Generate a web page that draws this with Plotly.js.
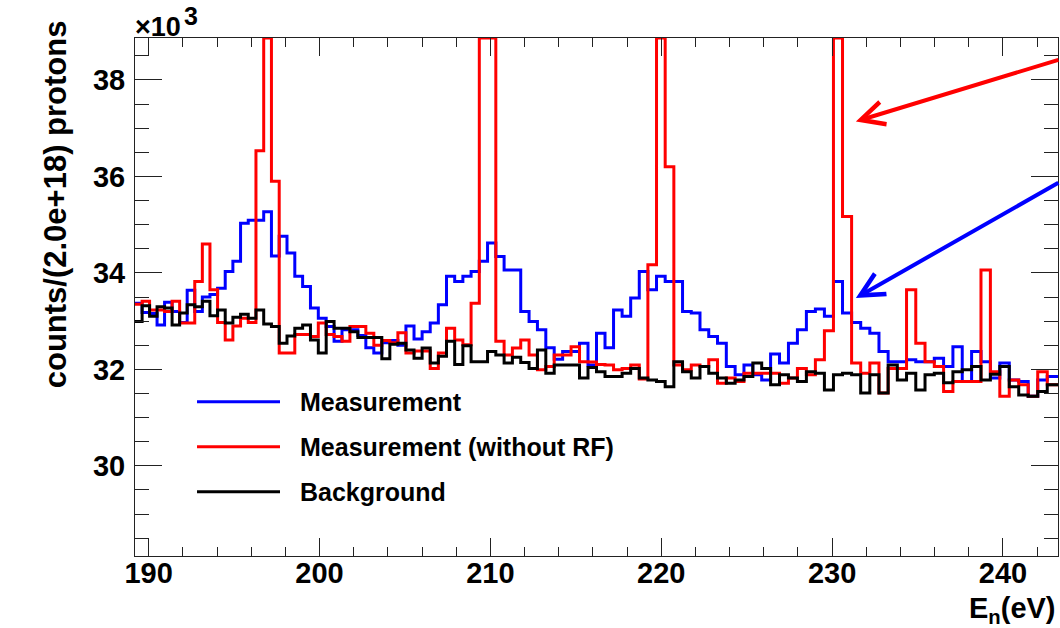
<!DOCTYPE html>
<html><head><meta charset="utf-8">
<script src="https://cdn.plot.ly/plotly-3.0.1.min.js"></script>
<style>html,body{margin:0;padding:0;background:#fff}#chart{width:1060px;height:628px}</style>
</head><body><div id="chart"></div>
<script>
// Histogram binning: logarithmic bins, 1000 bins per decade, first low edge in eV
const firstBinEdge = 189.18;
const binsPerDecade = 1000;

// Bin contents (x10^3 counts / (2.0e+18) protons), read bin by bin from the picture
const measurement = [
 33.37,33.18,33.16,32.92,33.39,33.20,32.97,33.64,33.20,33.50,
 33.55,33.68,34.03,34.24,35.03,35.09,35.09,35.27,34.35,34.76,
 34.41,33.93,33.72,33.27,33.06,32.89,32.58,32.82,32.82,32.70,
 32.45,32.34,32.55,32.60,32.50,32.90,32.63,32.78,32.96,33.34,
 33.93,33.82,33.93,34.03,34.24,34.62,34.34,34.06,34.06,33.20,
 32.99,32.82,32.45,32.21,32.37,32.37,32.54,32.09,32.75,32.45,
 33.23,33.10,33.48,34.03,33.65,33.93,33.82,33.82,33.20,33.17,
 32.82,32.68,32.54,32.06,31.89,32.09,31.89,31.78,32.32,32.13,
 32.54,32.82,33.20,33.25,33.10,33.82,33.17,32.97,32.85,32.75,
 32.37,32.16,32.16,32.20,32.16,32.16,32.23,32.06,32.47,31.75,
 32.37,32.16,31.82,32.13,31.78,31.75,31.44,31.78,31.85,31.85
];
const measurementNoRF = [
 33.35,33.41,33.23,33.23,33.20,33.41,32.96,32.96,33.82,34.60,
 33.65,32.97,32.61,32.90,33.06,32.97,36.53,38.87,35.90,32.34,
 32.34,32.72,32.72,32.68,32.96,32.72,32.68,32.58,32.89,32.89,
 32.75,32.50,32.60,32.55,32.76,32.34,32.38,32.38,32.02,32.34,
 32.85,32.61,32.51,33.37,38.87,38.87,32.58,32.30,32.44,32.61,
 32.30,31.99,32.06,32.30,32.30,32.47,32.16,32.15,32.10,32.09,
 31.99,32.02,32.09,31.80,34.17,38.87,36.20,32.09,31.99,32.09,
 32.06,32.20,31.71,31.82,31.75,31.92,31.92,31.92,31.92,31.71,
 31.82,32.02,31.89,32.20,32.80,38.87,35.17,32.13,31.92,32.13,
 31.51,32.02,32.02,33.65,32.54,32.16,32.06,31.54,31.75,31.75,
 31.75,34.06,31.95,31.44,31.78,31.68,31.44,31.95,31.68,31.68
];
const background = [
 32.99,33.32,33.10,33.30,33.27,32.92,33.17,33.34,33.30,33.41,
 33.11,33.23,32.96,33.08,33.14,33.06,33.23,32.94,32.89,32.54,
 32.69,32.85,32.92,32.61,32.34,32.99,32.85,32.85,32.78,32.66,
 32.66,32.66,32.22,32.52,32.54,32.40,32.23,32.44,32.13,32.27,
 32.58,32.10,32.49,32.16,32.16,32.37,32.30,32.13,32.25,32.14,
 32.02,32.40,31.92,32.09,32.09,32.09,31.82,32.04,31.95,31.85,
 31.85,31.92,32.02,31.82,31.78,31.75,31.64,32.16,31.95,31.82,
 32.06,31.92,31.82,31.71,31.78,31.85,32.13,32.02,31.68,31.89,
 31.82,31.75,31.95,31.92,31.57,31.89,31.92,31.89,31.51,31.89,
 31.51,32.09,31.78,31.92,31.57,31.89,31.92,31.72,31.95,31.99,
 32.06,31.78,31.90,32.06,31.64,31.47,31.44,31.54,31.68,31.68
];

const seriesNames = ['Measurement', 'Measurement (without RF)', 'Background'];
const seriesColors = ['#0000ff', '#ff0000', '#000000'];
const xTickVals = [190, 200, 210, 220, 230, 240];
const xTickText = ['190', '200', '210', '220', '230', '240'];
const yTickVals = [30, 32, 34, 36, 38];
const yTickText = ['30', '32', '34', '36', '38'];

const FONT = 'Liberation Sans, Arial, Helvetica, sans-serif';

// bin edges of the histogram axis
const nBins = measurement.length;
const edges = [];
for (let i = 0; i <= nBins; i++) edges.push(firstBinEdge * Math.pow(10, i / binsPerDecade));

function stepTrace(vals, name, color) {
  return {
    type: 'scatter', mode: 'lines', name: name,
    x: edges, y: vals.concat([vals[vals.length - 1]]),
    line: {shape: 'hv', color: color, width: 3},
    hoverinfo: 'skip'
  };
}
const data = [
  stepTrace(measurement, seriesNames[0], seriesColors[0]),
  stepTrace(measurementNoRF, seriesNames[1], seriesColors[1]),
  stepTrace(background, seriesNames[2], seriesColors[2])
];

const axisCommon = {
  showgrid: false, zeroline: false, showline: true, linecolor: '#222', linewidth: 1,
  mirror: 'allticks', ticks: 'inside', tickcolor: '#222', tickwidth: 1,
  tickfont: {family: FONT, size: 29, color: '#000', weight: 'bold'}
};

const annotations = [
  {xref: 'paper', yref: 'paper', x: -0.002, y: 1, xanchor: 'left', yanchor: 'bottom', yshift: -6,
   text: '×10', showarrow: false, font: {family: FONT, size: 27, color: '#000', weight: 'bold'}},
  {xref: 'paper', yref: 'paper', x: 0.0505, y: 1, xanchor: 'left', yanchor: 'bottom', yshift: 6,
   text: '3', showarrow: false, font: {family: FONT, size: 25, color: '#000', weight: 'bold'}},
  {xref: 'paper', yref: 'paper', x: -0.0867, y: 1.038, xanchor: 'center', yanchor: 'top',
   textangle: -90, text: 'counts/(2.0e+18) protons', showarrow: false,
   font: {family: FONT, size: 31, color: '#000', weight: 'bold'}},
  {xref: 'paper', yref: 'paper', x: 1, y: -0.066, xanchor: 'right', yanchor: 'top',
   text: 'E<sub>n</sub>(eV)', showarrow: false,
   font: {family: FONT, size: 29, color: '#000', weight: 'bold'}},
  {xref: 'x', yref: 'y', x: 231.39, y: 37.14, ax: 204, ay: -62, axref: 'pixel', ayref: 'pixel',
   showarrow: true, arrowhead: 5, arrowsize: 1.15, arrowwidth: 4, arrowcolor: '#ff0000', text: ''},
  {xref: 'x', yref: 'y', x: 231.39, y: 33.48, ax: 204, ay: -116, axref: 'pixel', ayref: 'pixel',
   showarrow: true, arrowhead: 5, arrowsize: 1.15, arrowwidth: 4, arrowcolor: '#0000ff', text: ''}
];
const shapes = [];
const legendY = [0.2979, 0.2110, 0.1241];
for (let k = 0; k < 3; k++) {
  shapes.push({type: 'line', xref: 'paper', yref: 'paper', x0: 0.0672, x1: 0.1571,
    y0: legendY[k], y1: legendY[k], line: {color: seriesColors[k], width: 3}});
  annotations.push({xref: 'paper', yref: 'paper', x: 0.1766, y: legendY[k], xanchor: 'left',
    yanchor: 'middle', text: seriesNames[k], showarrow: false,
    font: {family: FONT, size: 25, color: '#000', weight: 'bold'}});
}

const layout = {
  width: 1060, height: 628,
  margin: {l: 135, r: 2, t: 38, b: 72, pad: 0},
  paper_bgcolor: '#ffffff', plot_bgcolor: '#ffffff',
  showlegend: false,
  xaxis: Object.assign({}, axisCommon, {
    range: [189.2, 243.22], tickmode: 'array', tickvals: xTickVals, ticktext: xTickText,
    ticklen: 18, ticklabelstandoff: -9,
    minor: {tickmode: 'linear', tick0: 190, dtick: 2, ticks: 'inside', ticklen: 9, tickcolor: '#222', showgrid: false}
  }),
  yaxis: Object.assign({}, axisCommon, {
    range: [28.13, 38.87], tickmode: 'array', tickvals: yTickVals, ticktext: yTickText,
    ticklen: 27, ticklabelstandoff: 3,
    minor: {tickmode: 'linear', tick0: 30, dtick: 0.5, ticks: 'inside', ticklen: 14, tickcolor: '#222', showgrid: false}
  }),
  annotations: annotations,
  shapes: shapes
};

Plotly.newPlot('chart', data, layout, {staticPlot: true, displayModeBar: false});
</script>
</body></html>
